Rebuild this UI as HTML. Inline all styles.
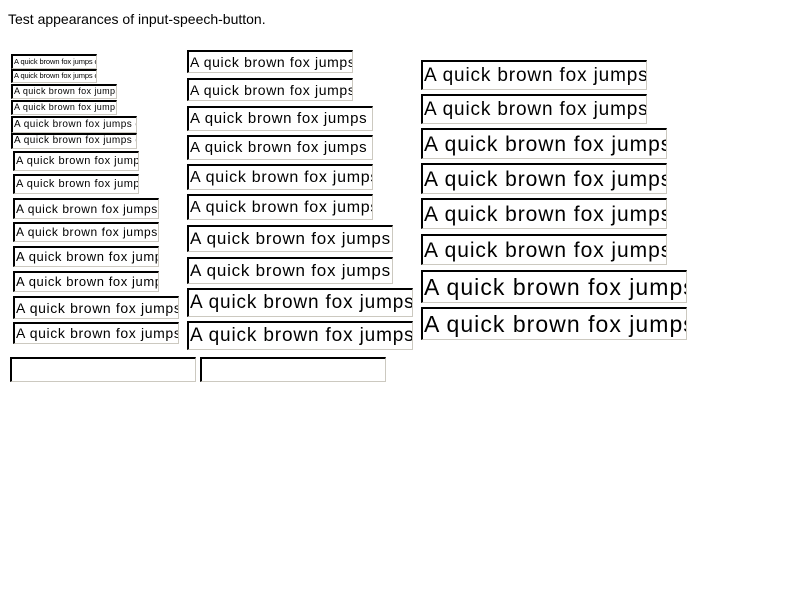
<!DOCTYPE html>
<html><head><style>
body{margin:0;width:800px;height:600px;background:#fff;font-family:"Liberation Sans",sans-serif;position:relative;overflow:hidden}
.t{position:absolute;left:8px;top:11px;font-size:14px;color:#000}
.b{position:absolute;box-sizing:border-box;border-style:solid;border-width:2px 1px 1px 2px;border-color:#000 #ccc9c0 #ccc9c0 #000;background:#fff;overflow:hidden;white-space:nowrap;padding-left:1px;color:#000;letter-spacing:0.045em}
</style></head><body>
<div class="t">Test appearances of input-speech-button.</div>

<div class="b" style="left:11px;top:54px;width:86px;height:15px;font-size:7.5px;line-height:11px;letter-spacing:-0.1px">A quick brown fox jumps over the lazy dog</div>
<div class="b" style="left:11px;top:69px;width:86px;height:14px;font-size:7.5px;line-height:10px;letter-spacing:-0.1px">A quick brown fox jumps over the lazy dog</div>
<div class="b" style="left:11px;top:84px;width:106px;height:15px;font-size:9px;line-height:11px">A quick brown fox jumps over the lazy dog</div>
<div class="b" style="left:11px;top:100px;width:106px;height:15px;font-size:9px;line-height:11px">A quick brown fox jumps over the lazy dog</div>
<div class="b" style="left:11px;top:116px;width:126px;height:17px;font-size:10px;line-height:13px">A quick brown fox jumps over the lazy dog</div>
<div class="b" style="left:11px;top:133px;width:126px;height:16px;font-size:10px;line-height:12px">A quick brown fox jumps over the lazy dog</div>
<div class="b" style="left:13px;top:151px;width:126px;height:20px;font-size:11px;line-height:17px">A quick brown fox jumps over the lazy dog</div>
<div class="b" style="left:13px;top:174px;width:126px;height:20px;font-size:11px;line-height:17px">A quick brown fox jumps over the lazy dog</div>
<div class="b" style="left:13px;top:198px;width:146px;height:21px;font-size:12px;line-height:18px">A quick brown fox jumps over the lazy dog</div>
<div class="b" style="left:13px;top:222px;width:146px;height:20px;font-size:12px;line-height:17px">A quick brown fox jumps over the lazy dog</div>
<div class="b" style="left:13px;top:246px;width:146px;height:21px;font-size:13px;line-height:18px">A quick brown fox jumps over the lazy dog</div>
<div class="b" style="left:13px;top:271px;width:146px;height:21px;font-size:13px;line-height:18px">A quick brown fox jumps over the lazy dog</div>
<div class="b" style="left:13px;top:296px;width:166px;height:23px;font-size:14px;line-height:20px">A quick brown fox jumps over the lazy dog</div>
<div class="b" style="left:13px;top:322px;width:166px;height:22px;font-size:14px;line-height:19px">A quick brown fox jumps over the lazy dog</div>

<div class="b" style="left:10px;top:357px;width:186px;height:25px"></div>
<div class="b" style="left:200px;top:357px;width:186px;height:25px"></div>

<div class="b" style="left:187px;top:50px;width:166px;height:23px;font-size:14px;line-height:20px">A quick brown fox jumps over the lazy dog</div>
<div class="b" style="left:187px;top:78px;width:166px;height:23px;font-size:14px;line-height:20px">A quick brown fox jumps over the lazy dog</div>
<div class="b" style="left:187px;top:106px;width:186px;height:25px;font-size:15px;line-height:22px">A quick brown fox jumps over the lazy dog</div>
<div class="b" style="left:187px;top:135px;width:186px;height:25px;font-size:15px;line-height:22px">A quick brown fox jumps over the lazy dog</div>
<div class="b" style="left:187px;top:164px;width:186px;height:26px;font-size:16px;line-height:23px">A quick brown fox jumps over the lazy dog</div>
<div class="b" style="left:187px;top:194px;width:186px;height:26px;font-size:16px;line-height:23px">A quick brown fox jumps over the lazy dog</div>
<div class="b" style="left:187px;top:225px;width:206px;height:27px;font-size:17px;line-height:24px">A quick brown fox jumps over the lazy dog</div>
<div class="b" style="left:187px;top:257px;width:206px;height:27px;font-size:17px;line-height:24px">A quick brown fox jumps over the lazy dog</div>
<div class="b" style="left:187px;top:288px;width:226px;height:29px;font-size:19px;line-height:26px">A quick brown fox jumps over the lazy dog</div>
<div class="b" style="left:187px;top:321px;width:226px;height:29px;font-size:19px;line-height:26px">A quick brown fox jumps over the lazy dog</div>

<div class="b" style="left:421px;top:60px;width:226px;height:30px;font-size:19px;line-height:28px">A quick brown fox jumps over the lazy dog</div>
<div class="b" style="left:421px;top:94px;width:226px;height:30px;font-size:19px;line-height:28px">A quick brown fox jumps over the lazy dog</div>
<div class="b" style="left:421px;top:128px;width:246px;height:31px;font-size:21px;line-height:29px">A quick brown fox jumps over the lazy dog</div>
<div class="b" style="left:421px;top:163px;width:246px;height:31px;font-size:21px;line-height:29px">A quick brown fox jumps over the lazy dog</div>
<div class="b" style="left:421px;top:198px;width:246px;height:31px;font-size:21px;line-height:29px">A quick brown fox jumps over the lazy dog</div>
<div class="b" style="left:421px;top:234px;width:246px;height:31px;font-size:21px;line-height:29px">A quick brown fox jumps over the lazy dog</div>
<div class="b" style="left:421px;top:270px;width:266px;height:33px;font-size:23px;line-height:30px">A quick brown fox jumps over the lazy dog</div>
<div class="b" style="left:421px;top:307px;width:266px;height:33px;font-size:23px;line-height:30px">A quick brown fox jumps over the lazy dog</div>
</body></html>
